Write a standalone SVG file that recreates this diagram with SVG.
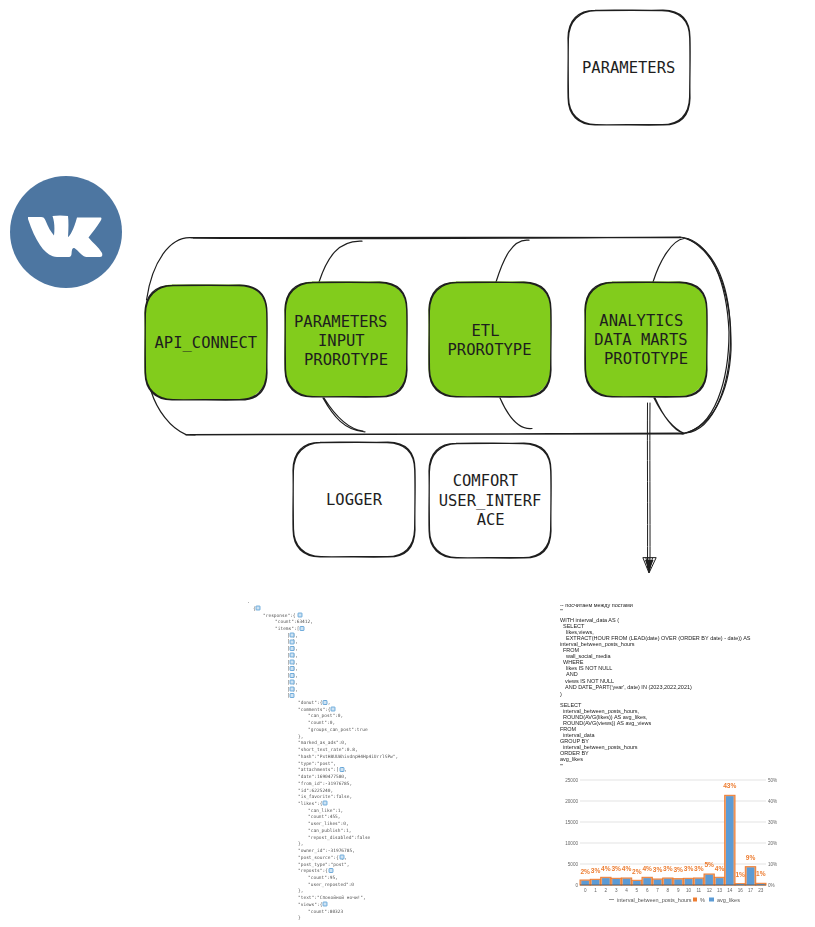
<svg xmlns="http://www.w3.org/2000/svg" width="815" height="927" viewBox="0 0 815 927">
<style>
.bg{fill:#fff}
.ink{fill:none;stroke:#1e1e1e;stroke-width:1.2;stroke-linecap:round;stroke-linejoin:round}
.thin{stroke-width:1}
.green{fill:#82cc1c}
.label{font-family:"DejaVu Sans Mono",monospace;font-size:15.5px;fill:#1e1e1e}
.json{font-family:"DejaVu Sans Mono",monospace;font-size:4.5px;fill:#555}
.sql{font-family:"Liberation Sans",Arial,sans-serif;font-size:5.5px;fill:#222}
.ax{font-family:"Liberation Sans",Arial,sans-serif;font-size:4.6px;fill:#666}
.leg{font-family:"Liberation Sans",Arial,sans-serif;font-size:5.5px;fill:#555}
.pct{font-family:"Liberation Sans",Arial,sans-serif;font-size:6.6px;font-weight:700;fill:#ed7d31;text-anchor:middle}
.grid{stroke:#dcdcdc;stroke-width:.8}
.o{fill:#f0a878;stroke:#ed7d31;stroke-width:1}
.b{fill:#5b9bd5}
.ic{fill:#cfe3f3;stroke:#3d8fd0;stroke-width:.7}
.soft{filter:url(#soft)}
</style>
<defs>
<filter id="soft" x="-2%" y="-2%" width="104%" height="104%"><feGaussianBlur stdDeviation="0.4"/></filter>
<path id="box" class="ink" d="M27 .3C50 -.4 72 .6 95 .2C113 .5 122 10 122 28C122.600 50 121.500 68 122 88C121.600 106 112 115.200 95 115C72 115.600 50 114.400 27 115C10 114.600 .2 105 .1 88C-.5 68 .6 48 0 28C.3 10 10 .4 27 .3ZM28 .7C50 .2 74 .2 94 .6C112 1 121.400 11 121.700 28C122.300 48 121.800 70 121.600 87C121.200 105 111 114.700 94 114.600C72 114.300 48 115 28 114.700C11 114.200 .7 104 .5 87C.2 68 .1 48 .4 29C.8 11 11 1 28 .7Z"/>
<rect id="fill" x="-.5" y="-.5" width="122.500" height="115.500" rx="28"/>
<rect id="ic" width="4" height="4" rx=".5" class="ic"/>
</defs>

<rect class="bg" width="815" height="927"/>

<g id="vk-logo">
<circle cx="66" cy="232" r="56" fill="#4d76a1"/>
<path fill="#fff" d="M28 217H41C43.500 217 44.500 218 45.500 220.500C48 227 51 232 54 235.500C54.800 228 54.500 222 52.500 216C57 215.300 63 215.300 68 216C68.700 222 68.500 229 68 237C70 236 73.500 230 77 217.500H101C101.800 218 101.500 219.500 100.500 221C97 227 92.500 232 88.500 237.500C93 243 98.500 247 102 253C102.800 255.500 102 257 100 257H86.500C83 257 79 251.500 75 248.500C72.500 247 71.800 249 71.500 254C71.300 256.500 70 257 68 257H57C47 256.500 37 246 28 219Z"/>
</g>

<g id="connectors">
<path class="ink" d="M190 237.500C340 238.600 520 236.600 681 237.600M193 238.200C360 239.400 530 238 680 237.200"/>
<path class="ink" d="M190 434.500C340 433.600 520 434.400 683 433.200M186 434.800C350 434.200 530 434.600 684 433.800"/>
<path class="ink" d="M192 237.800C170 236 152 262 146.500 300M151 391C157 410 170 428 186 434.600L195 435"/>
<path class="ink" d="M319 282C327 258 338 240 362 241.200"/>
<path class="ink" d="M323 398C333 416 345 431 365 431.800M324 398C334 414 347 429 363 431"/>
<path class="ink" d="M496 282C503 260 512 238 529 240.200"/>
<path class="ink" d="M500 398C507 414 518 430 532 428.500"/>
<path class="ink" d="M653 282C660 260 672 240 684 238.500M654 398C662 414 672 428 684 433.300M655 398C663 416 674 431 683 433"/>
<path class="ink" d="M680 237C712 240 727 285 729 332C729 380 715 428 683 433.500"/>
<path class="ink" d="M684 238C718 248 731 292 730.500 340C730 385 714 430 686 433"/>
<path class="ink" d="M688 239C722 256 732 305 731 350C729 393 712 428 682 433.800"/>
<path class="ink thin" d="M647.500 403C647.200 450 647.800 510 647.500 568M650 403C649.600 450 650.200 510 650 568"/>
<path class="ink thin" d="M643 558L649 573L656 558ZM646 558L649 572M652.500 558L649 572M649 558V572"/>
<path d="M645 560L653.500 560L649 571Z" fill="#1e1e1e"/>
</g>

<g id="parameters"><use href="#box" x="568" y="10"/><text class="label" x="582" y="73">PARAMETERS</text></g>

<g id="api-connect"><use href="#fill" x="145" y="285" class="green"/><use href="#box" x="145" y="285"/><text class="label" x="154.500" y="348">API_CONNECT</text></g>

<g id="parameters-input"><use href="#fill" x="285" y="282" class="green"/><use href="#box" x="285" y="282"/><text class="label"><tspan x="294" y="326.500">PARAMETERS</tspan><tspan x="318" y="345.500">INPUT</tspan><tspan x="304" y="364.500">PROROTYPE</tspan></text></g>

<g id="etl"><use href="#fill" x="429" y="282" class="green"/><use href="#box" x="429" y="282"/><text class="label"><tspan x="471.500" y="336">ETL</tspan><tspan x="447.500" y="355">PROROTYPE</tspan></text></g>

<g id="analytics"><use href="#fill" x="585" y="282" class="green"/><use href="#box" x="585" y="282"/><text class="label"><tspan x="599.300" y="325.700">ANALYTICS</tspan><tspan x="594.300" y="344.700">DATA MARTS</tspan><tspan x="604" y="363.700">PROTOTYPE</tspan></text></g>

<g id="logger"><use href="#box" x="293" y="442"/><text class="label" x="326" y="505">LOGGER</text></g>

<g id="comfort"><use href="#box" x="429" y="443"/><text class="label"><tspan x="452.700" y="486">COMFORT</tspan><tspan x="438.700" y="506">USER_INTERF</tspan><tspan x="476.700" y="525">ACE</tspan></text></g>

<g id="json-screenshot" class="json soft">
<text x="247" y="603">.</text>
<text x="253" y="610">{</text><use href="#ic" x="256" y="606"/>
<text x="263" y="616.500">"response":{</text><use href="#ic" x="298" y="613"/>
<text x="275" y="623.200">"count":63412,</text>
<text x="275" y="630">"items":[</text><use href="#ic" x="300" y="626.500"/>
<g>
<text x="287" y="636.700">[    ],</text><use href="#ic" x="290" y="633"/>
<text x="287" y="643.400">[    ],</text><use href="#ic" x="290" y="640"/>
<text x="287" y="650.200">[    ],</text><use href="#ic" x="290" y="646.500"/>
<text x="287" y="656.900">[    ],</text><use href="#ic" x="290" y="653"/>
<text x="287" y="663.600">[    ],</text><use href="#ic" x="290" y="660"/>
<text x="287" y="670.400">[    ],</text><use href="#ic" x="290" y="666.500"/>
<text x="287" y="677.100">[    ],</text><use href="#ic" x="290" y="673.500"/>
<text x="287" y="683.800">[    ],</text><use href="#ic" x="290" y="680"/>
<text x="287" y="690.500">[    ],</text><use href="#ic" x="290" y="687"/>
<text x="287" y="697.300">[</text><use href="#ic" x="290" y="693.500"/>
</g>
<text x="298" y="704">"donut":{    },</text><use href="#ic" x="323" y="700.500"/>
<text x="298" y="710.700">"comments":{</text><use href="#ic" x="331" y="707"/>
<text x="308" y="717.400">"can_post":0,</text>
<text x="308" y="724.200">"count":0,</text>
<text x="308" y="730.900">"groups_can_post":true</text>
<text x="298" y="737.600">},</text>
<text x="298" y="744.400">"marked_as_ads":0,</text>
<text x="298" y="751.100">"short_text_rate":0.8,</text>
<text x="298" y="757.800">"hash":"PxtH8UUAhivdnpH4Hp4iUrrlSPw",</text>
<text x="298" y="764.500">"type":"post",</text>
<text x="298" y="771.300">"attachments":[    ],</text><use href="#ic" x="340" y="767.500"/>
<text x="298" y="778">"date":1690477580,</text>
<text x="298" y="784.700">"from_id":-31976785,</text>
<text x="298" y="791.500">"id":6225240,</text>
<text x="298" y="798.200">"is_favorite":false,</text>
<text x="298" y="804.900">"likes":{</text><use href="#ic" x="323" y="801"/>
<text x="308" y="811.600">"can_like":1,</text>
<text x="308" y="818.400">"count":455,</text>
<text x="308" y="825.100">"user_likes":0,</text>
<text x="308" y="831.800">"can_publish":1,</text>
<text x="308" y="838.600">"repost_disabled":false</text>
<text x="298" y="845.300">},</text>
<text x="298" y="852">"owner_id":-31976785,</text>
<text x="298" y="858.700">"post_source":{    },</text><use href="#ic" x="340" y="855"/>
<text x="298" y="865.500">"post_type":"post",</text>
<text x="298" y="872.200">"reposts":{</text><use href="#ic" x="329" y="868.500"/>
<text x="308" y="878.900">"count":95,</text>
<text x="308" y="885.700">"user_reposted":0</text>
<text x="298" y="892.400">},</text>
<text x="298" y="899.100">"text":"Спокойной ночи!",</text>
<text x="298" y="905.800">"views":{</text><use href="#ic" x="323" y="902"/>
<text x="308" y="912.600">"count":80323</text>
<text x="298" y="919.300">}</text>
</g>

<g id="sql-screenshot" class="sql soft">
<text x="560" y="607">-- посчитаем между постами</text>
<text x="560" y="613.100">'''</text>
<text x="560" y="621.500">WITH interval_data AS (</text>
<text x="563" y="627.600">SELECT</text>
<text x="566" y="633.700">likes,views,</text>
<text x="566" y="639.800">EXTRACT(HOUR FROM (LEAD(date) OVER (ORDER BY date) - date)) AS</text>
<text x="560" y="645.900">interval_between_posts_hours</text>
<text x="563" y="652">FROM</text>
<text x="566" y="658.100">wall_social_media</text>
<text x="563" y="664.200">WHERE</text>
<text x="566" y="670.300">likes IS NOT NULL</text>
<text x="566" y="676.400">AND</text>
<text x="565" y="682.500">views IS NOT NULL</text>
<text x="565" y="688.600">AND DATE_PART('year', date) IN (2023,2022,2021)</text>
<text x="560" y="695.500">)</text>
<text x="560" y="706.500">SELECT</text>
<text x="563" y="712.600">interval_between_posts_hours,</text>
<text x="563" y="718.700">ROUND(AVG(likes)) AS avg_likes,</text>
<text x="563" y="724.800">ROUND(AVG(views)) AS avg_views</text>
<text x="560" y="730.900">FROM</text>
<text x="563" y="737">interval_data</text>
<text x="560" y="743.100">GROUP BY</text>
<text x="563" y="749.200">interval_between_posts_hours</text>
<text x="560" y="755.300">ORDER BY</text>
<text x="560" y="761.400">avg_likes</text>
<text x="560" y="767.500">'''</text>
</g>

<g id="chart" class="soft">
<path class="grid" d="M580 780H766M580 801H766M580 822H766M580 843H766M580 864H766"/>
<g class="o">
<rect x="580" y="880" width="10.300" height="5"/><rect x="590.300" y="879.300" width="10.400" height="5.700"/><rect x="600.700" y="877.300" width="10.300" height="7.700"/><rect x="611" y="878.300" width="10.300" height="6.700"/><rect x="621.300" y="878" width="10.400" height="7"/><rect x="631.700" y="880.300" width="10.300" height="4.700"/><rect x="642" y="877.300" width="10.300" height="7.700"/><rect x="652.300" y="879" width="10.400" height="6"/><rect x="662.700" y="878" width="10.300" height="7"/><rect x="673" y="878.700" width="10.300" height="6.300"/><rect x="683.300" y="878.300" width="10.400" height="6.700"/><rect x="693.700" y="878" width="10.300" height="7"/><rect x="704" y="874" width="10.300" height="11"/><rect x="714.300" y="877.300" width="10.400" height="7.700"/><rect x="724.700" y="795.300" width="10.300" height="89.700"/><rect x="735" y="883.700" width="10.300" height="1.300"/><rect x="745.300" y="866.700" width="10.400" height="18.300"/><rect x="755.700" y="883.300" width="10.300" height="1.700"/>
</g>
<g class="b">
<rect x="581.400" y="880.800" width="7.500" height="4.200"/><rect x="591.800" y="880" width="7.500" height="5"/><rect x="602.100" y="878.200" width="7.500" height="6.800"/><rect x="612.400" y="879" width="7.500" height="6"/><rect x="622.800" y="878.800" width="7.500" height="6.200"/><rect x="633.100" y="881" width="7.500" height="4"/><rect x="643.400" y="878.200" width="7.500" height="6.800"/><rect x="653.800" y="879.800" width="7.500" height="5.200"/><rect x="664.100" y="878.800" width="7.500" height="6.200"/><rect x="674.400" y="879.500" width="7.500" height="5.500"/><rect x="684.800" y="879" width="7.500" height="6"/><rect x="695.100" y="878.800" width="7.500" height="6.200"/><rect x="705.400" y="874.800" width="7.500" height="10.200"/><rect x="715.800" y="878.200" width="7.500" height="6.800"/><rect x="726" y="796.200" width="7.500" height="88.800"/><rect x="736.400" y="884" width="7.500" height="1"/><rect x="746.800" y="867.500" width="7.500" height="17.500"/><rect x="757.100" y="884" width="7.500" height="1"/>
</g>
<path d="M580 885H766" stroke="#555" stroke-width=".8"/>
<g class="pct">
<text x="585.200" y="873.500">2%</text><text x="595.500" y="872.500">3%</text><text x="605.800" y="870.500">4%</text><text x="616.200" y="871">3%</text><text x="626.500" y="870.700">4%</text><text x="636.800" y="873.500">2%</text><text x="647.200" y="870.700">4%</text><text x="657.500" y="872">3%</text><text x="667.800" y="871">3%</text><text x="678.200" y="871.500">3%</text><text x="688.500" y="871">3%</text><text x="698.800" y="870.700">3%</text><text x="709.200" y="867.300">5%</text><text x="719.500" y="870.500">4%</text><text x="729.800" y="788.300">43%</text><text x="740.200" y="876.700">1%</text><text x="750.500" y="859.700">9%</text><text x="760.800" y="876.300">1%</text>
</g>
<g class="ax" text-anchor="end">
<text x="578" y="781.500">25000</text><text x="578" y="802.500">20000</text><text x="578" y="823.500">15000</text><text x="578" y="844.500">10000</text><text x="578" y="865.500">5000</text><text x="578" y="886.500">0</text>
</g>
<g class="ax">
<text x="768" y="781.500">50%</text><text x="768" y="802.500">40%</text><text x="768" y="823.500">30%</text><text x="768" y="844.500">20%</text><text x="768" y="865.500">10%</text><text x="768" y="886.500">0%</text>
</g>
<g class="ax" text-anchor="middle">
<text x="585.200" y="891.500">0</text><text x="595.500" y="891.500">1</text><text x="605.800" y="891.500">2</text><text x="616.200" y="891.500">3</text><text x="626.500" y="891.500">4</text><text x="636.800" y="891.500">5</text><text x="647.200" y="891.500">6</text><text x="657.500" y="891.500">7</text><text x="667.800" y="891.500">8</text><text x="678.200" y="891.500">9</text><text x="688.500" y="891.500">10</text><text x="698.800" y="891.500">11</text><text x="709.200" y="891.500">12</text><text x="719.500" y="891.500">13</text><text x="729.800" y="891.500">14</text><text x="740.200" y="891.500">16</text><text x="750.500" y="891.500">17</text><text x="760.800" y="891.500">23</text>
</g>
<path d="M609 899.500H614" stroke="#999"/>
<text class="leg" x="617" y="901.500">interval_between_posts_hours</text>
<rect x="693" y="897.500" width="4" height="4" fill="#ed7d31"/>
<text class="leg" x="700" y="901.500">%</text>
<rect x="709" y="897.500" width="5" height="4" fill="#5b9bd5"/>
<text class="leg" x="717" y="901.500">avg_likes</text>
</g>
</svg>
